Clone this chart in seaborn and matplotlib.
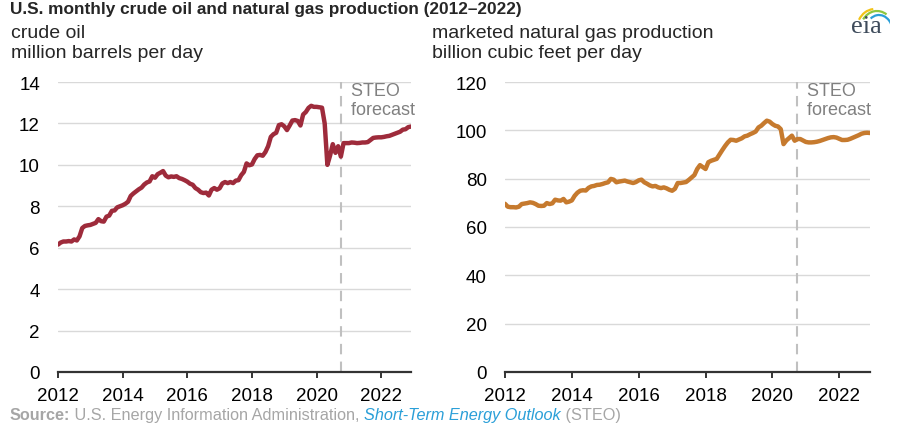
import numpy as np
import pandas as pd
import matplotlib.pyplot as plt
import seaborn as sns
from matplotlib.patches import Arc

# monthly values, Jan 2012 - Dec 2022 (forecast from Oct 2020)
start_month = '2012-01'
forecast_start = 2020.75

crude_oil = [
    6.15, 6.25, 6.30, 6.30, 6.32, 6.30, 6.40, 6.35, 6.55, 6.95, 7.05, 7.08,   # 2012
    7.10, 7.15, 7.20, 7.38, 7.28, 7.26, 7.50, 7.55, 7.78, 7.80, 7.95, 8.00,   # 2013
    8.05, 8.12, 8.22, 8.50, 8.62, 8.72, 8.82, 8.90, 9.05, 9.15, 9.20, 9.45,   # 2014
    9.38, 9.55, 9.62, 9.70, 9.48, 9.40, 9.44, 9.42, 9.45, 9.36, 9.32, 9.26,   # 2015
    9.19, 9.09, 9.04, 8.88, 8.80, 8.68, 8.64, 8.66, 8.52, 8.80, 8.88, 8.80,   # 2016
    8.87, 9.10, 9.17, 9.12, 9.17, 9.12, 9.24, 9.26, 9.50, 9.66, 10.07, 9.98,  # 2017
    10.02, 10.28, 10.46, 10.48, 10.44, 10.62, 10.90, 11.35, 11.48, 11.55, 11.92, 11.96,  # 2018
    11.86, 11.68, 11.90, 12.14, 12.16, 12.12, 11.90, 12.43, 12.55, 12.75, 12.85, 12.80,  # 2019
    12.80, 12.78, 12.76, 12.00, 10.00, 10.45, 11.00, 10.58, 10.90, 10.40, 11.05, 11.05,  # 2020
    11.05, 11.08, 11.07, 11.05, 11.06, 11.08, 11.08, 11.10, 11.20, 11.30, 11.32, 11.33,  # 2021
    11.33, 11.35, 11.38, 11.40, 11.45, 11.50, 11.55, 11.60, 11.70, 11.72, 11.82, 11.85,  # 2022
]

natural_gas = [
    69.6, 68.4, 68.2, 68.2, 68.1, 68.4, 69.5, 69.7, 69.9, 70.2, 70.0, 69.5,   # 2012
    68.8, 68.7, 68.8, 69.9, 69.5, 69.8, 71.3, 71.0, 70.9, 71.6, 70.2, 70.5,   # 2013
    71.0, 72.9, 74.2, 75.0, 75.2, 75.1, 76.2, 76.8, 77.0, 77.4, 77.5, 77.8,   # 2014
    78.2, 78.5, 79.9, 79.6, 78.5, 78.8, 79.0, 79.2, 78.8, 78.5, 78.2, 78.6,   # 2015
    79.3, 79.6, 78.5, 77.9, 77.2, 76.8, 77.0, 76.4, 76.1, 76.4, 76.0, 75.4,   # 2016
    75.0, 75.8, 78.2, 78.2, 78.4, 78.6, 79.5, 80.5, 81.5, 84.0, 85.6, 84.8,   # 2017
    84.0, 86.8, 87.4, 87.8, 88.2, 90.0, 91.8, 93.5, 95.0, 96.1, 96.0, 95.7,   # 2018
    96.2, 96.7, 97.5, 97.8, 98.4, 98.9, 99.5, 101.2, 101.9, 103.0, 104.0, 103.6,  # 2019
    102.6, 101.9, 101.6, 100.5, 94.3, 95.8, 96.8, 97.8, 95.7, 96.4, 96.4, 95.8,  # 2020
    95.2, 95.0, 95.0, 95.1, 95.3, 95.6, 96.0, 96.4, 96.8, 97.1, 97.2, 97.0,   # 2021
    96.5, 96.0, 96.0, 96.1, 96.5, 97.0, 97.5, 98.0, 98.6, 98.9, 99.0, 98.9,   # 2022
]

year_ticks = [2012, 2014, 2016, 2018, 2020, 2022]
oil_ticks = [0, 2, 4, 6, 8, 10, 12, 14]
gas_ticks = [0, 20, 40, 60, 80, 100, 120]

dates = pd.date_range(start_month, periods=len(crude_oil), freq='MS')
df = pd.DataFrame({
    'year': dates.year + (dates.month - 1) / 12,
    'oil': crude_oil,
    'gas': natural_gas,
})

sns.set_theme(style='white')
plt.rcParams['font.family'] = ['Liberation Sans', 'DejaVu Sans']

W, H = 902, 427
fig = plt.figure(figsize=(W / 100, H / 100), dpi=100)

def box(x0, x1, y_top, y_bot):
    return [x0 / W, 1 - y_bot / H, (x1 - x0) / W, (y_bot - y_top) / H]

ax1 = fig.add_axes(box(58, 411, 83, 373))
ax2 = fig.add_axes(box(505, 870, 83, 373))

panels = [
    (ax1, 'oil', '#9E2B3B', oil_ticks, 14),
    (ax2, 'gas', '#C67A2E', gas_ticks, 120),
]

for ax, col, color, yticks, ymax in panels:
    sns.lineplot(data=df, x='year', y=col, ax=ax, color=color, lw=3.2, zorder=3)
    ax.set_xlim(2012, 2022.92)
    ax.set_ylim(0, ymax)
    ax.set_yticks(yticks)
    ax.set_xticks(year_ticks)
    ax.set_xlabel('')
    ax.set_ylabel('')
    ax.grid(axis='y', color='#D9D9D9', lw=1)
    ax.grid(axis='x', visible=False)
    for s in ['left', 'right', 'top']:
        ax.spines[s].set_visible(False)
    ax.spines['bottom'].set_color('#333333')
    ax.spines['bottom'].set_linewidth(1.6)
    ax.spines['bottom'].set_zorder(4)
    ax.tick_params(axis='x', direction='out', length=4, width=1.4, color='#333333',
                   bottom=True, labelsize=13.5, pad=7, labelcolor='black')
    ax.tick_params(axis='y', length=0, labelsize=13.5, pad=13, labelcolor='black')
    ax.axvline(forecast_start, color='#C0C0C0', lw=1.5, ls=(0, (5, 3.5)), zorder=2)
    ax.text(forecast_start, ymax, '  STEO\n  forecast', color='#808080', fontsize=13,
            va='top', ha='left', linespacing=1.15,
            transform=ax.transData)

# titles and units
fig.text(10 / W, 1 - 2 / H, 'U.S. monthly crude oil and natural gas production (2012\u20132022)',
         fontsize=12.4, fontweight='bold', va='top', ha='left')
fig.text(11 / W, 1 - 25 / H, 'crude oil\nmillion barrels per day', fontsize=14,
         va='top', ha='left', linespacing=1.25)
fig.text(432 / W, 1 - 25 / H, 'marketed natural gas production\nbillion cubic feet per day',
         fontsize=14, va='top', ha='left', linespacing=1.25)

# source line
gray = '#A6A6A6'
t = fig.text(10 / W, 1 - 416 / H, 'Source:', fontsize=11.7, fontweight='bold', color=gray, va='center')
fig.canvas.draw()
r = fig.canvas.get_renderer()
def after(txt, s, **kw):
    bb = txt.get_window_extent(r)
    return fig.text(bb.x1 / W, 1 - 416 / H, s, fontsize=11.7, va='center', **kw)
t = after(t, ' U.S. Energy Information Administration, ', color=gray)
t = after(t, 'Short-Term Energy Outlook', color='#2A9FD8', style='italic')
t = after(t, ' (STEO)', color=gray)

# eia logo
fig.text(866 / W, 1 - 27 / H, 'eia', family=['Liberation Serif', 'DejaVu Serif'],
         fontsize=19, color='#3E4B5B', ha='center', va='center')
logo = fig.add_axes([845 / W, 1 - 40 / H, 45 / W, 35 / H])
logo.set_xlim(0, 45)
logo.set_ylim(0, 35)
logo.axis('off')
for (cx, cy, w, h, th1, th2, c) in [(30, 10, 36, 40, 95, 150, '#F2C318'),
                                    (32, 8, 34, 40, 60, 140, '#8DC63F'),
                                    (34, 6, 28, 36, 20, 120, '#2A9FD8')]:
    logo.add_patch(Arc((cx, cy), w, h, theta1=th1, theta2=th2, color=c, lw=1.6))

fig.savefig('out.png', dpi=100)
